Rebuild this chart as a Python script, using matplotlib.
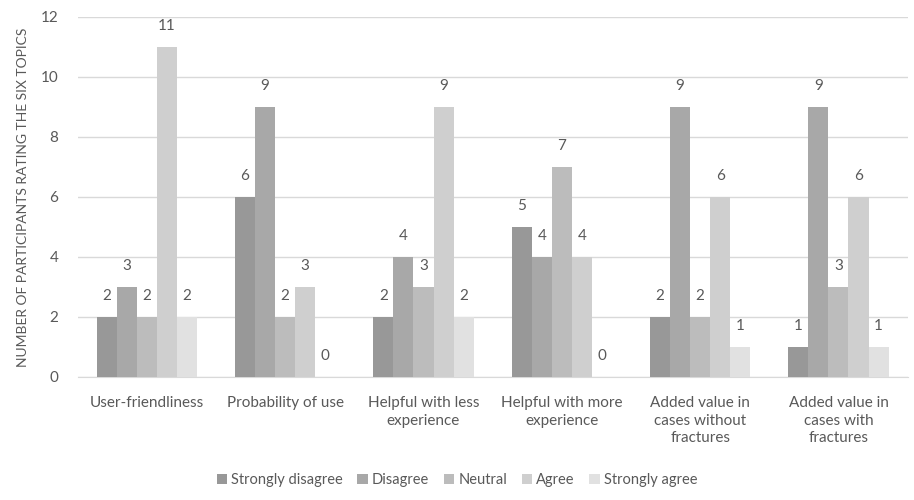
import numpy as np
import matplotlib.pyplot as plt

plt.rcParams['font.family'] = ['Lato', 'DejaVu Sans']

categories = ['User-friendliness', 'Probability of use', 'Helpful with less\nexperience',
              'Helpful with more\nexperience', 'Added value in\ncases without\nfractures',
              'Added value in\ncases with\nfractures']
series = ['Strongly disagree', 'Disagree', 'Neutral', 'Agree', 'Strongly agree']
strongly_disagree = [2, 6, 2, 5, 2, 1]
disagree = [3, 9, 4, 4, 9, 9]
neutral = [2, 2, 3, 7, 2, 3]
agree = [11, 3, 9, 4, 6, 6]
strongly_agree = [2, 0, 2, 0, 1, 1]

values = [strongly_disagree, disagree, neutral, agree, strongly_agree]
colors = ['#989898', '#a8a8a8', '#bcbcbc', '#cfcfcf', '#e1e1e1']
txt = '#595959'

fig = plt.figure(figsize=(9.14, 5), dpi=100)
ax = fig.add_axes([0.085, 0.246, 0.908, 0.72])

x = np.arange(len(categories))
w = 0.145
for i, (name, vals) in enumerate(zip(series, values)):
    pos = x + (i - 2) * w
    ax.bar(pos, vals, width=w, color=colors[i], label=name, zorder=3)
    for p, v in zip(pos, vals):
        ax.text(p, v + 0.45, str(v), ha='center', va='bottom', fontsize=11, color=txt)

ax.set_ylim(0, 12)
ax.set_yticks(range(0, 13, 2))
ax.set_xlim(-0.5, len(categories) - 0.5)
ax.set_xticks(x)
ax.set_xticklabels(categories, fontsize=11, color=txt, va='top', linespacing=1.3)
ax.tick_params(axis='y', labelsize=11, labelcolor=txt, length=0, pad=14)
ax.tick_params(axis='x', length=0, pad=14)
ax.yaxis.grid(True, color='#d9d9d9', linewidth=1, zorder=0)
for s in ['top', 'right', 'left']:
    ax.spines[s].set_visible(False)
ax.spines['bottom'].set_color('#d9d9d9')
ax.set_ylabel('NUMBER OF PARTICIPANTS RATING THE SIX TOPICS', fontsize=10, color=txt, labelpad=8)

fig.legend(loc='lower center', bbox_to_anchor=(0.5, 0.0), ncol=5, frameon=False,
           fontsize=10.5, labelcolor=txt, handlelength=0.7, handleheight=0.7,
           handletextpad=0.3, columnspacing=1.0)

fig.savefig('out.png', dpi=100)
